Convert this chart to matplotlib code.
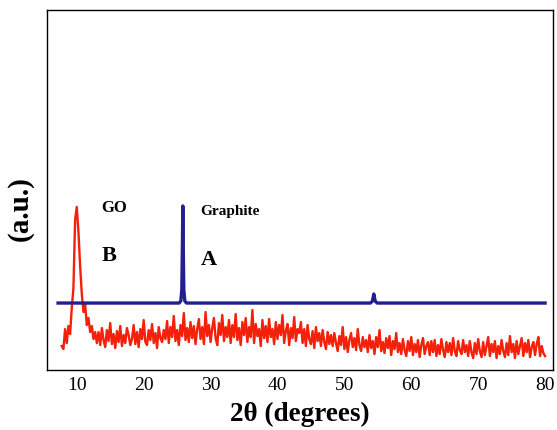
import numpy as np
import matplotlib.pyplot as plt

# XRD patterns, intensity in arbitrary units
# GO (red) sampled every 0.25 deg from 7.75 to 80
go_start, go_step = 7.75, 0.25
go_y = [
    24, 21, 41, 27, 44, 36, 62, 82, 150, 163, 138, 104, 76, 58, 66, 45, 52, 38, 44, 31, 38, 27,
    38, 25, 42, 30, 23, 40, 29, 47, 26, 36, 22, 39, 28, 44, 24, 35, 27, 42, 35, 25,
    31, 45, 26, 38, 23, 41, 31, 50, 28, 25, 40, 30, 46, 27, 37, 22, 43, 32, 28, 40,
    31, 49, 27, 43, 33, 54, 29, 40, 25, 45, 34, 57, 30, 42, 28, 48, 32, 44, 26, 41,
    51, 31, 43, 26, 58, 34, 45, 28, 42, 52, 32, 25, 47, 35, 55, 29, 43, 33, 50, 27,
    45, 33, 56, 30, 42, 25, 48, 35, 52, 28, 43, 33, 60, 27, 46, 34, 41, 24, 50, 32,
    44, 28, 51, 33, 41, 26, 48, 31, 45, 35, 55, 27, 39, 46, 25, 42, 32, 53, 29, 41,
    37, 48, 27, 41, 24, 45, 31, 26, 39, 22, 43, 29, 37, 24, 40, 28, 21, 38, 26, 35,
    24, 37, 27, 19, 34, 25, 43, 21, 33, 18, 30, 37, 23, 32, 20, 41, 25, 19, 33, 23,
    30, 18, 35, 22, 29, 16, 33, 23, 40, 19, 28, 17, 32, 22, 34, 15, 29, 21, 37, 18,
    27, 16, 31, 20, 14, 29, 19, 33, 15, 26, 18, 30, 13, 25, 32, 16, 24, 28, 15, 29,
    18, 30, 14, 25, 16, 31, 20, 13, 28, 18, 27, 15, 32, 19, 14, 29, 20, 16, 30, 18,
    25, 14, 29, 18, 12, 27, 16, 31, 19, 13, 28, 15, 24, 33, 14, 26, 18, 29, 12, 24,
    16, 30, 19, 13, 27, 15, 34, 18, 26, 12, 29, 16, 24, 32, 14, 27, 18, 30, 13, 23,
    28, 15, 26, 33, 14, 24, 17, 14,
]
go_x = go_start + go_step * np.arange(len(go_y))

# Graphite (blue)
gr_x = [7.2, 25.3, 25.55, 25.7, 25.8, 25.85, 25.9, 26.0, 26.15, 26.4,
        53.9, 54.2, 54.4, 54.6, 54.9, 80.0]
gr_y = [67, 67, 69, 80, 130, 164, 130, 80, 69, 67,
        67, 69, 76, 69, 67, 67]

fig = plt.figure(figsize=(5.57, 4.31), dpi=100)
ax = fig.add_axes([0.085, 0.139, 0.908, 0.836])

ax.plot(go_x, go_y, color='#f4200a', lw=1.7)
ax.plot(gr_x, gr_y, color='#231f8c', lw=2.4)

serif = 'Liberation Serif'
ax.text(13.6, 163, 'GO', fontsize=12, fontweight='bold', family=serif, va='center')
ax.text(13.7, 115, 'B', fontsize=16, fontweight='bold', family=serif, va='center')
ax.text(28.4, 159, 'Graphite', fontsize=11, fontweight='bold', family=serif, va='center')
ax.text(28.6, 111, 'A', fontsize=16, fontweight='bold', family=serif, va='center')

ax.set_xlim(5.6, 81.2)
ax.set_ylim(0, 360)
ax.set_xticks(range(10, 81, 10))
ax.set_yticks([])
ax.tick_params(axis='x', length=0, pad=4, labelsize=14)
for lab in ax.get_xticklabels():
    lab.set_family(serif)
for sp in ax.spines.values():
    sp.set_linewidth(1.0)

ax.set_xlabel('2θ (degrees)', fontsize=19.5, fontweight='bold', family=serif, labelpad=6)
ax.set_ylabel('(a.u.)', fontsize=21, fontweight='bold', family=serif)
ax.yaxis.set_label_coords(-0.027, 0.45)

fig.savefig('out.png', dpi=100)
